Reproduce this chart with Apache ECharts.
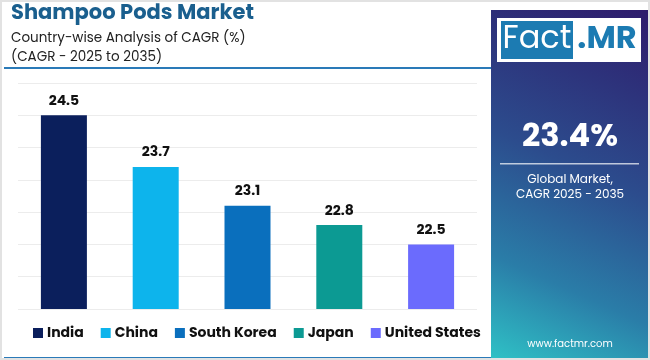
<!DOCTYPE html>
<html>
<head>
<meta charset="utf-8">
<script src="https://cdn.jsdelivr.net/npm/echarts@6/dist/echarts.min.js"></script>
<style>html,body{margin:0;padding:0;background:#fff}#c{width:650px;height:360px}</style>
</head>
<body>
<div id="c"></div>
<script>
var categories = ['India', 'China', 'South Korea', 'Japan', 'United States'];
var cagrValues = [24.5, 23.7, 23.1, 22.8, 22.5];
var barColors = ['#0b1f5c', '#0db4ec', '#0a6fbd', '#0c9a93', '#6b6bfd'];
var globalCagr = '23.4%';

var FONT = 'Poppins, Inter, "Open Sans", sans-serif';
var chart = echarts.init(document.getElementById('c'), null, {renderer: 'canvas'});

var series = categories.map(function (name, i) {
  var d = categories.map(function (_, j) { return j === i ? cagrValues[i] : '-'; });
  return {
    name: name, type: 'bar', stack: 'all', barWidth: 46, data: d,
    itemStyle: {color: barColors[i]},
    label: {show: true, position: 'top', distance: 7, color: '#111',
      fontFamily: FONT, fontWeight: 'bold', fontSize: 14,
      formatter: function (p) { return p.value.toFixed(1); }}
  };
});

chart.setOption({
  backgroundColor: '#ffffff',
  animation: false,
  title: [
    {text: 'Shampoo Pods Market', left: 11, top: 3, padding: 0,
     textStyle: {fontFamily: FONT, fontWeight: 'bold', fontSize: 21, color: '#1a5f8e'}},
    {text: 'Country-wise Analysis of CAGR (%)\n(CAGR - 2025 to 2035)', left: 11, top: 29, padding: 0,
     textStyle: {fontFamily: FONT, fontWeight: 'normal', fontSize: 13.5, color: '#222', lineHeight: 19}}
  ],
  legend: {
    data: categories, left: 33, top: 326, padding: 0, itemWidth: 10, itemHeight: 10, itemGap: 17,
    icon: 'rect',
    textStyle: {fontFamily: FONT, fontWeight: 'bold', fontSize: 14, color: '#111', padding: [0, 0, 0, -1]}
  },
  grid: {left: 18, right: 173, top: 83, bottom: 51},
  xAxis: {type: 'category', data: categories, axisLine: {show: false}, axisTick: {show: false}, axisLabel: {show: false}},
  yAxis: {type: 'value', min: 21.5, max: 25, interval: 0.5, axisLabel: {show: false},
    axisLine: {show: false}, axisTick: {show: false},
    splitLine: {lineStyle: {color: '#ececec', width: 1}}},
  series: series,
  graphic: [
    {type: 'rect', shape: {x: 1, y: 1, width: 648, height: 358}, style: {fill: 'none', stroke: '#e2e2e2', lineWidth: 2}, z: 100},
    {type: 'rect', shape: {x: 4, y: 67, width: 488, height: 2}, style: {fill: '#2a7ab8'}},
    {type: 'rect', shape: {x: 4, y: 357, width: 488, height: 2}, style: {fill: '#2a7ab8'}},
    {type: 'rect', shape: {x: 491, y: 10, width: 157, height: 350},
     style: {fill: new echarts.graphic.LinearGradient(1, 0, 0, 1, [
       {offset: 0, color: '#2e1c6c'}, {offset: 0.45, color: '#2c4c8d'}, {offset: 0.75, color: '#2a7da8'}, {offset: 1, color: '#2fc2c6'}])}},
    {type: 'rect', shape: {x: 497, y: 18, width: 144, height: 44}, style: {fill: '#ffffff'}},
    {type: 'rect', shape: {x: 501, y: 21, width: 72, height: 38}, style: {fill: '#1c7bb2'}},
    {type: 'text', style: {x: 537, y: 40, text: 'Fact', fill: '#ffffff', font: '32px ' + FONT, align: 'center', verticalAlign: 'middle'}},
    {type: 'text', style: {x: 607, y: 40, text: '.MR', fill: '#1c7bb2', font: 'bold 32px ' + FONT, align: 'center', verticalAlign: 'middle'}},
    {type: 'text', style: {x: 570, y: 138, text: globalCagr, fill: '#ffffff', font: 'bold 32px ' + FONT, align: 'center', verticalAlign: 'middle'}},
    {type: 'rect', shape: {x: 500, y: 163, width: 139, height: 1.5}, style: {fill: 'rgba(255,255,255,0.7)'}},
    {type: 'text', style: {x: 570, y: 180, text: 'Global Market,', fill: '#ffffff', font: '12px ' + FONT, align: 'center', verticalAlign: 'middle'}},
    {type: 'text', style: {x: 570, y: 195, text: 'CAGR 2025 - 2035', fill: '#ffffff', font: '12px ' + FONT, align: 'center', verticalAlign: 'middle'}},
    {type: 'text', style: {x: 570, y: 344, text: 'www.factmr.com', fill: '#ffffff', font: '10px ' + FONT, align: 'center', verticalAlign: 'middle'}}
  ]
});
</script>
</body>
</html>
